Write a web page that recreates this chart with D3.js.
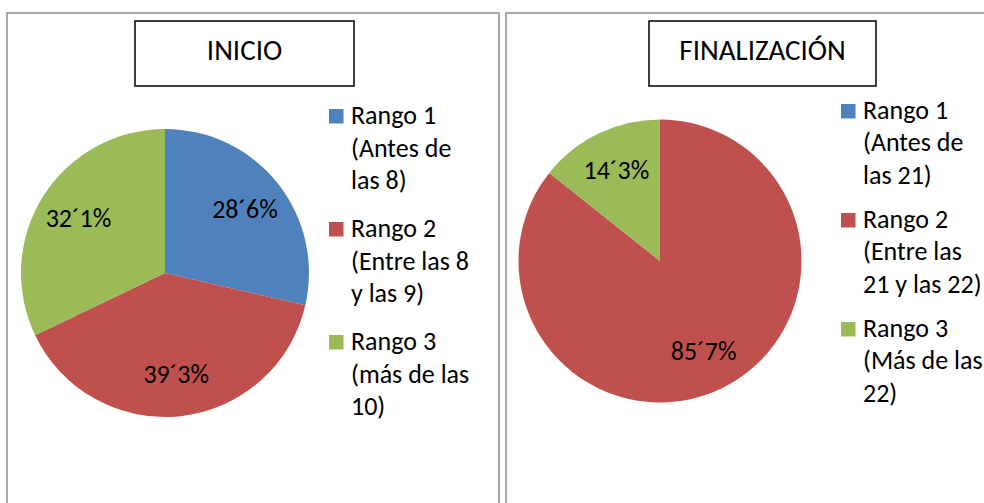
<!DOCTYPE html>
<html>
<head>
<meta charset="utf-8">
<script src="https://cdn.jsdelivr.net/npm/d3@7"></script>
<style>
  body { margin: 0; background: #fff; }
  svg { display: block; font-family: Carlito, Calibri, "Open Sans", sans-serif; }
</style>
</head>
<body>
<svg id="chart"></svg>
<script>
const width = 984;
const height = 503;

// data
const titles = ["INICIO", "FINALIZACIÓN"];
const inicioValues = [28.6, 39.3, 32.1];
const finalValues = [0, 85.7, 14.3];
const inicioLegend = [
  ["Rango 1", "(Antes de", "las 8)"],
  ["Rango 2", "(Entre las 8", "y las 9)"],
  ["Rango 3", "(más de las", "10)"]
];
const finalLegend = [
  ["Rango 1", "(Antes de", "las 21)"],
  ["Rango 2", "(Entre las", "21 y las 22)"],
  ["Rango 3", "(Más de las", "22)"]
];
const colors = ["#4F81BD", "#C0504D", "#9BBB59"];

// layout of the two panels
const panels = [
  {
    left: 7, right: 499, top: 13,
    box: { x: 135, y: 21, w: 219, h: 65 },
    cx: 165, cy: 273, r: 144,
    legX: 329, legY: 124, lineH: 32.5, entryH: 113,
    values: inicioValues, legend: inicioLegend, title: titles[0]
  },
  {
    left: 506, right: 995, top: 13,
    box: { x: 649, y: 21, w: 227, h: 65 },
    cx: 660, cy: 261, r: 141.5,
    legX: 841, legY: 119, lineH: 32.4, entryH: 109,
    values: finalValues, legend: finalLegend, title: titles[1]
  }
];

const svg = d3.select("#chart").attr("width", width).attr("height", height);

const pie = d3.pie().sort(null);
const fmt = v => v.toFixed(1).replace(".", "´") + "%";

panels.forEach(p => {
  let g = svg.append("g");

  // panel frame
  g.append("rect")
    .attr("x", p.left)
    .attr("y", p.top)
    .attr("width", p.right - p.left)
    .attr("height", height + 20)
    .attr("fill", "none")
    .attr("stroke", "#8a8a8a")
    .attr("stroke-width", 1.5);

  // title box
  g.append("rect")
    .attr("x", p.box.x)
    .attr("y", p.box.y)
    .attr("width", p.box.w)
    .attr("height", p.box.h)
    .attr("fill", "#fff")
    .attr("stroke", "#000")
    .attr("stroke-width", 1.5);
  g.append("text")
    .text(p.title)
    .attr("x", p.box.x + p.box.w / 2)
    .attr("y", 60)
    .attr("text-anchor", "middle")
    .attr("font-size", 29)
    .attr("fill", "#000");

  // pie
  let arcs = pie(p.values);
  let arc = d3.arc().innerRadius(0).outerRadius(p.r);
  let labelArc = d3.arc().innerRadius(p.r * 0.71).outerRadius(p.r * 0.71);
  let pieG = g.append("g").attr("transform", `translate(${p.cx},${p.cy})`);

  pieG.selectAll("path")
    .data(arcs)
    .enter()
    .append("path")
    .attr("d", arc)
    .attr("fill", (d, i) => colors[i]);

  pieG.selectAll(".lbl")
    .data(arcs.filter(d => d.data > 0))
    .enter()
    .append("text")
    .classed("lbl", true)
    .text(d => fmt(d.data))
    .attr("x", d => labelArc.centroid(d)[0])
    .attr("y", d => labelArc.centroid(d)[1] + 8.5)
    .attr("text-anchor", "middle")
    .attr("font-size", 26)
    .attr("fill", "#000");

  // legend
  let leg = g.selectAll(".legend")
    .data(p.legend)
    .enter()
    .append("g")
    .classed("legend", true)
    .attr("transform", (d, i) => `translate(${p.legX},${p.legY + i * p.entryH})`);

  leg.append("rect")
    .attr("x", 0)
    .attr("y", -15)
    .attr("width", 14.5)
    .attr("height", 14.5)
    .attr("fill", (d, i) => colors[i]);

  leg.selectAll("text")
    .data(d => d)
    .enter()
    .append("text")
    .text(d => d)
    .attr("x", 22)
    .attr("y", (d, j) => j * p.lineH)
    .attr("font-size", 26)
    .attr("fill", "#000");
});
</script>
</body>
</html>
